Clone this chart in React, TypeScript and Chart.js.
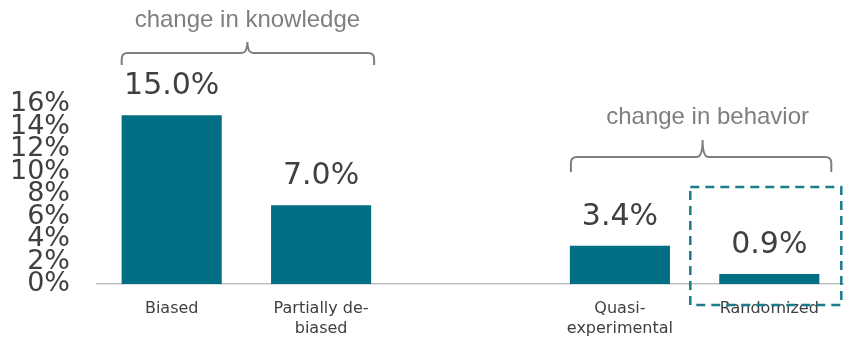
import React, { useEffect, useRef } from "react";
import { Chart, registerables } from "chart.js";

Chart.register(...registerables);

const categories: (string | string[])[] = [
  "Biased",
  ["Partially de-", "biased"],
  "",
  ["Quasi-", "experimental"],
  "Randomized",
];
const values: (number | null)[] = [15.0, 7.0, null, 3.4, 0.9];
const valueLabels: string[] = ["15.0%", "7.0%", "", "3.4%", "0.9%"];
const yTicks = { min: 0, max: 16, step: 2 };
const groupTexts = ["change in knowledge", "change in behavior"];

const TEAL = "#006F83";
const DARK = "#404040";
const GRAY = "#7F7F7F";

const annotationPlugin = {
  id: "annotations",
  afterDatasetsDraw(chart: any) {
    const ctx = chart.ctx as CanvasRenderingContext2D;
    const meta = chart.getDatasetMeta(0);
    const x = chart.scales.x;
    // value labels
    ctx.save();
    ctx.font = "30px 'DejaVu Sans'";
    ctx.fillStyle = DARK;
    ctx.textAlign = "center";
    ctx.textBaseline = "alphabetic";
    meta.data.forEach((el: any, i: number) => {
      if (values[i] == null) return;
      ctx.fillText(valueLabels[i], el.x, el.y - 21);
    });
    ctx.restore();

    const brace = (x1: number, x2: number, xc: number, yLine: number, yEnd: number, yPeak: number) => {
      const r = 6;
      ctx.beginPath();
      ctx.moveTo(x1, yEnd);
      ctx.lineTo(x1, yLine + r);
      ctx.quadraticCurveTo(x1, yLine, x1 + r, yLine);
      ctx.lineTo(xc - r, yLine);
      ctx.quadraticCurveTo(xc, yLine, xc, yPeak);
      ctx.quadraticCurveTo(xc, yLine, xc + r, yLine);
      ctx.lineTo(x2 - r, yLine);
      ctx.quadraticCurveTo(x2, yLine, x2, yLine + r);
      ctx.lineTo(x2, yEnd);
      ctx.stroke();
    };

    ctx.save();
    ctx.strokeStyle = GRAY;
    ctx.lineWidth = 2;
    const c0 = x.getPixelForValue(0);
    const c1 = x.getPixelForValue(1);
    const c3 = x.getPixelForValue(3);
    const c4 = x.getPixelForValue(4);
    brace(c0 - 50, c1 + 53, (c0 + c1) / 2 + 1, 53, 65, 42);
    brace(c3 - 49, c4 + 62, (c3 + c4) / 2 + 8, 157, 172, 140);

    ctx.fillStyle = GRAY;
    ctx.font = "24px 'Liberation Sans'";
    ctx.textAlign = "center";
    ctx.textBaseline = "middle";
    ctx.fillText(groupTexts[0], (c0 + c1) / 2 + 1, 20);
    ctx.fillText(groupTexts[1], (c3 + c4) / 2 + 13, 117);

    // dashed box around Randomized
    ctx.strokeStyle = "#1A7C8C";
    ctx.lineWidth = 2.5;
    ctx.setLineDash([9, 6]);
    ctx.strokeRect(c4 - 79, 187, 151, 118);
    ctx.restore();
  },
};

export default function App() {
  const ref = useRef<HTMLCanvasElement>(null);
  useEffect(() => {
    if (!ref.current) return;
    const chart = new Chart(ref.current, {
      type: "bar",
      data: {
        labels: categories,
        datasets: [
          {
            data: values,
            backgroundColor: TEAL,
            borderWidth: 0,
            categoryPercentage: 0.67,
            barPercentage: 1,
          },
        ],
      },
      options: {
        responsive: false,
        animation: false,
        layout: { padding: { top: 104, left: 0, right: 0, bottom: 0 } },
        plugins: { legend: { display: false }, tooltip: { enabled: false } },
        scales: {
          x: {
            grid: { display: false, drawTicks: false },
            border: { display: true, color: "#BFBFBF", width: 1.5 },
            ticks: {
              color: DARK,
              font: { family: "'DejaVu Sans'", size: 16, lineHeight: 1.3 },
              padding: 14,
              maxRotation: 0,
              autoSkip: false,
            },
            afterFit: (s: any) => {
              s.height = 55;
            },
          },
          y: {
            min: yTicks.min,
            max: yTicks.max,
            grid: { display: false, drawTicks: false },
            border: { display: false },
            ticks: {
              stepSize: yTicks.step,
              autoSkip: false,
              color: DARK,
              font: { family: "'DejaVu Sans'", size: 27, lineHeight: 0.8 },
              padding: 27,
              callback: (v: any) => v + "%",
            },
            afterFit: (s: any) => {
              s.width = 97;
            },
          },
        },
      },
      plugins: [annotationPlugin],
    });
    return () => chart.destroy();
  }, []);
  return (
    <div style={{ position: "fixed", left: 0, top: 0, width: 844, height: 339, background: "#fff" }}>
      <canvas ref={ref} width={844} height={339} />
    </div>
  );
}
